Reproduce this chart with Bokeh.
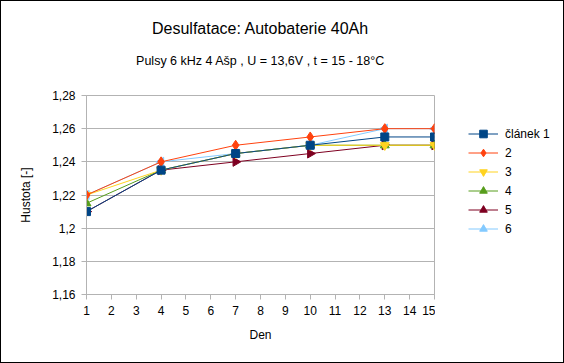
import math
from bokeh.plotting import figure
from bokeh.layouts import row
from bokeh.models import (FixedTicker, Legend, LegendItem, Title, Range1d)
from bokeh.embed import file_html
from bokeh.resources import INLINE

# ---- data ----
days = [1, 4, 7, 10, 13, 15]
series_names = ["článek 1", "2", "3", "4", "5", "6"]
s1 = [1.21, 1.235, 1.245, 1.25, 1.255, 1.255]
s2 = [1.22, 1.24, 1.25, 1.255, 1.26, 1.26]
s3 = [1.22, 1.235, 1.245, 1.25, 1.25, 1.25]
s4 = [1.215, 1.235, 1.245, 1.25, 1.25, 1.25]
s5 = [1.21, 1.235, 1.24, 1.245, 1.25, 1.25]
s6 = [1.22, 1.24, 1.245, 1.25, 1.26, 1.26]
x_ticks = list(range(1, 16))
y_ticks = [1.16, 1.18, 1.2, 1.22, 1.24, 1.26, 1.28]
y_tick_labels = ["1,16", "1,18", "1,2", "1,22", "1,24", "1,26", "1,28"]
title_text = "Desulfatace: Autobaterie 40Ah"
subtitle_text = "Pulsy 6 kHz 4 Ašp , U = 13,6V , t = 15 - 18°C"
x_label = "Den"
y_label = "Hustota [-]"

colors = ["#004586", "#ff420e", "#ffd320", "#579d1c", "#7e0021", "#83caff"]
markers = ["square", "diamond", "inverted_triangle", "triangle", "triangle", "triangle"]
angles = [0, 0, 0, 0, -math.pi / 2, math.pi / 2]
sizes = [8, 10, 9, 9, 9, 9]
all_series = [s1, s2, s3, s4, s5, s6]

FONT = "Liberation Sans"
GRAY = "#b3b3b3"

p = figure(width=434, height=361, output_backend="svg", toolbar_location=None,
           x_range=Range1d(1, 15), y_range=Range1d(1.16, 1.28),
           min_border_left=85, min_border_right=1, min_border_top=94,
           min_border_bottom=68, title=None)
p.outline_line_color = GRAY
p.background_fill_color = "white"
p.border_fill_color = "white"

p.xgrid.visible = False
p.ygrid.grid_line_color = GRAY
p.ygrid.ticker = FixedTicker(ticks=y_ticks)

for ax, ticks in ((p.xaxis, x_ticks), (p.yaxis, y_ticks)):
    ax.ticker = FixedTicker(ticks=ticks)
    ax.axis_line_color = GRAY
    ax.major_tick_line_color = GRAY
    ax.minor_tick_line_color = None
    ax.major_tick_in = 0
    ax.major_tick_out = 5
    ax.major_label_text_font = FONT
    ax.major_label_text_font_size = "12px"
    ax.major_label_text_color = "black"
    ax.axis_label_text_font = FONT
    ax.axis_label_text_font_size = "12px"
    ax.axis_label_text_font_style = "normal"
    ax.axis_label_text_color = "black"

p.yaxis.major_label_overrides = dict(zip(y_ticks, y_tick_labels))
p.xaxis.axis_label = x_label
p.yaxis.axis_label = y_label
p.xaxis.major_label_standoff = 6
p.yaxis.major_label_standoff = 6
p.xaxis.axis_label_standoff = 10
p.yaxis.axis_label_standoff = 16

for i in reversed(range(6)):
    p.line(days, all_series[i], line_color=colors[i], line_width=1)
    p.scatter(days, all_series[i], marker=markers[i], size=sizes[i],
              angle=angles[i], fill_color=colors[i], line_color=colors[i])

p.add_layout(Title(text=subtitle_text, align="center", standoff=31,
                   padding=dict(left=0, right=0, top=0, bottom=12),
                   text_font=FONT, text_font_size="12.5px", text_font_style="normal",
                   text_color="black"), "above")
p.add_layout(Title(text=title_text, align="center", standoff=0,
                   text_font=FONT, text_font_size="16px", text_font_style="normal",
                   text_color="black"), "above")

# ---- legend panel (same series, drawn off-view; only the legend shows) ----
lg = figure(width=128, height=361, output_backend="svg", toolbar_location=None,
            x_range=Range1d(-20, -19), y_range=Range1d(0, 1),
            min_border=0, title=None)
lg.axis.visible = False
lg.grid.visible = False
lg.outline_line_color = None
lg.background_fill_color = "white"
lg.border_fill_color = "white"

items = []
for i in range(6):
    ln = lg.line(days, all_series[i], line_color=colors[i], line_width=1)
    sc = lg.scatter(days, all_series[i], marker=markers[i], size=sizes[i],
                    angle=angles[i], fill_color=colors[i], line_color=colors[i])
    items.append(LegendItem(label=series_names[i], renderers=[ln, sc]))

legend = Legend(items=items, location=(33, 56), padding=0, margin=0, spacing=0,
                glyph_width=30, glyph_height=19, label_height=19, label_standoff=7,
                border_line_color=None, background_fill_alpha=0,
                label_text_font=FONT, label_text_font_size="12px",
                label_text_color="black")
lg.add_layout(legend)

layout = row(p, lg, spacing=0, styles={"border": "1px solid black"})

open("out.html", "w").write(file_html(layout, INLINE))
